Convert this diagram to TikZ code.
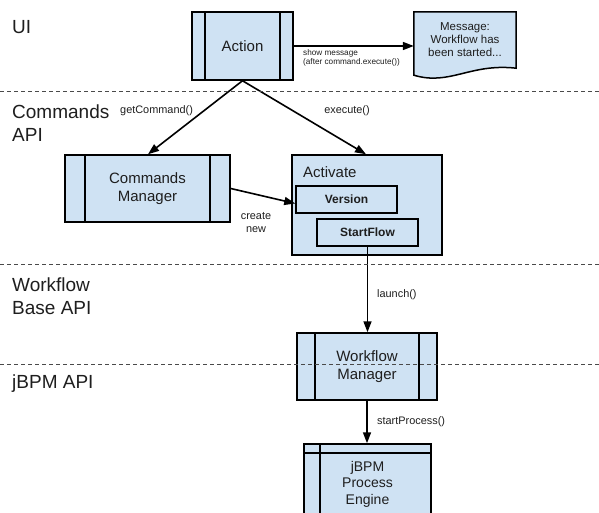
\documentclass[tikz,border=0pt]{standalone}
\usepackage{fontspec}
\setmainfont{Liberation Sans}
\usetikzlibrary{arrows.meta,backgrounds}
\definecolor{boxfill}{HTML}{CFE2F3}
\definecolor{txt}{HTML}{1E1E1E}
\definecolor{dashc}{HTML}{4A4A4A}
\tikzset{
  box/.style={draw=black, line width=1.5pt, fill=boxfill, text=txt,
    font=\fontsize{15}{18}\selectfont, align=center, inner sep=0pt},
  subproc/.style={box, path picture={
      \draw[line width=1.5pt]
        ([xshift=#1]path picture bounding box.north west) -- ([xshift=#1]path picture bounding box.south west)
        ([xshift=-#1]path picture bounding box.north east) -- ([xshift=-#1]path picture bounding box.south east);}},
  subproc/.default=13pt,
  storage/.style={box, font=\fontsize{14}{16.5}\selectfont, path picture={
      \draw[line width=1.5pt]
        ([xshift=16pt]path picture bounding box.north west) -- ([xshift=16pt]path picture bounding box.south west)
        ([yshift=-9pt]path picture bounding box.north west) -- ([yshift=-9pt]path picture bounding box.north east);}},
  inbox/.style={box, font=\fontsize{12}{14}\selectfont\bfseries},
  layerlbl/.style={text=txt, font=\fontsize{19}{22.5}\selectfont, align=left, inner sep=0pt},
  edgelbl/.style={text=txt, font=\fontsize{10.9}{13}\selectfont, inner sep=0pt},
  arr/.style={-{Triangle[length=11pt,width=8pt]}, line width=1.6pt, draw=black},
  sep/.style={draw=dashc, line width=1pt, dash pattern=on 4pt off 3pt},
}
\begin{document}
\begin{tikzpicture}[x=1pt,y=-1pt]
\useasboundingbox (0,0) rectangle (599,513);
\clip (0,0) rectangle (599,513);

% layer labels
\node[layerlbl, anchor=base west] (lui) at (12,34) {UI};
\node[layerlbl, anchor=north west] (lcmd) at (12,105) {Commands\\API};
\node[layerlbl, anchor=north west] (lwf) at (12,278) {Workflow\\Base API};
\node[layerlbl, anchor=base west] (ljbpm) at (12,388.5) {jBPM API};

% nodes
\node[subproc, minimum width=101pt, minimum height=68pt] (act) at (242.5,46) {Action};
\node[text=txt, font=\fontsize{11.5}{13}\selectfont, align=center, inner sep=0pt,
      minimum width=102pt, minimum height=56pt] (msg) at (465,40) {Message:\\Workflow has\\been started...};
\begin{scope}[on background layer]
  \draw[line width=1.5pt, fill=boxfill] (msg.north west) -- (msg.north east) -- (msg.south east)
     .. controls (470,63) and (450,86) .. ([yshift=-7pt]msg.south west) -- cycle;
\end{scope}

\node[subproc=20pt, minimum width=165pt, minimum height=67pt] (cm) at (147.5,188.5) {Commands\\Manager};
\node[box, minimum width=150pt, minimum height=100pt] (activ) at (367,205) {};
\node[text=txt, font=\fontsize{15}{18}\selectfont, inner sep=0pt, anchor=base west] (activl) at (303,178) {Activate};
\node[inbox, minimum width=101pt, minimum height=27pt] (ver) at (346.5,199.5) {Version};
\node[inbox, minimum width=101pt, minimum height=27pt] (sf) at (367.5,232.5) {StartFlow};

\node[subproc=18pt, minimum width=140pt, minimum height=67pt] (wm) at (367,366.5) {Workflow\\Manager};
\node[storage, minimum width=127pt, minimum height=80pt] (eng) at (367.5,484) {jBPM\\Process\\Engine};

% connectors
\draw[arr] (act.east) -- (msg.west |- act.east);
\node[text=txt, font=\fontsize{8.2}{9.5}\selectfont, align=left, inner sep=0pt, anchor=north west] (lshow) at (303,49) {show message\\(after command.execute())};

\draw[arr] (act.south) -- ([xshift=0.5pt]cm.north);
\draw[arr] (act.south) -- ([xshift=-1pt]activ.north);
\node[edgelbl, anchor=base west] (lget) at (120,114) {getCommand()};
\node[edgelbl, anchor=base] (lexe) at (347,114) {execute()};

\draw[arr] (cm.east) -- ([yshift=-4pt]ver.west);
\node[edgelbl, align=center, anchor=north] (lcreate) at (256,212) {create\\new};

\draw[arr] (sf.south) -- (sf.south |- wm.north);
\node[edgelbl, anchor=base west] (llaunch) at (377,297) {launch()};

\draw[arr] (wm.south) -- (wm.south |- eng.north);
\node[edgelbl, anchor=base west] (lstart) at (377,424) {startProcess()};

% separators
\draw[sep] (0,92) coordinate (s1a) -- (599,92) coordinate (s1b);
\draw[sep] (0,264) coordinate (s2a) -- (599,264) coordinate (s2b);
\draw[sep] (0,364) coordinate (s3a) -- (599,364) coordinate (s3b);
\end{tikzpicture}
\end{document}
